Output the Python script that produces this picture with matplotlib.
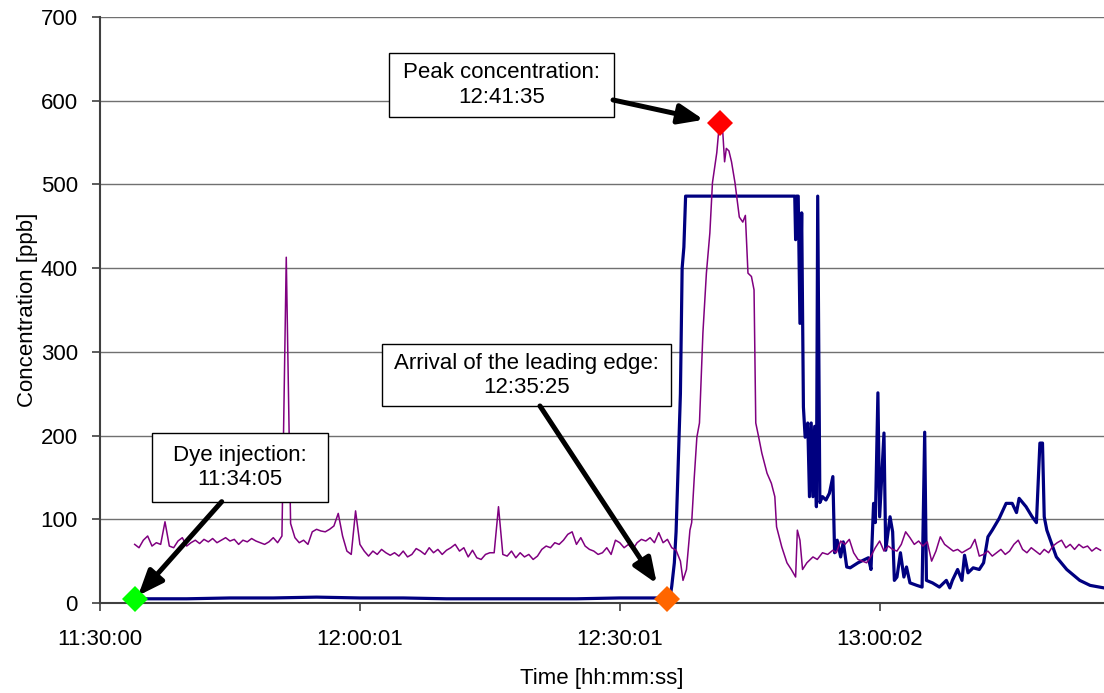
import matplotlib
matplotlib.use("Agg")
import matplotlib.pyplot as plt
from matplotlib.patches import Rectangle
import numpy as np

plt.rcParams['font.family'] = ['Liberation Sans', 'DejaVu Sans']

# temps en minutes depuis 11:30:00
tick_pos = [0.0, 30.017, 60.017, 90.033]
tick_lab = ["11:30:00", "12:00:01", "12:30:01", "13:00:02"]
x_fin = 115.9

# courbe bleue (sonde saturée à ~486 ppb)
bleu_t = [4.0, 10.0, 15.0, 20.0, 25.0, 30.0, 35.0, 40.0, 45.0, 50.0, 55.0, 60.0, 65.0,
          65.8, 66.0, 66.3, 66.5, 66.7, 67.0, 67.2, 67.4, 67.6,
          80.2, 80.3, 80.4, 80.6, 80.8, 81.0, 81.2, 81.4, 81.7, 81.9, 82.1, 82.3, 82.5,
          82.7, 82.85, 83.1, 83.4, 83.8, 84.2, 84.6, 84.8, 85.1, 85.5, 85.8, 86.2, 86.6,
          87.5, 88.7, 89.0, 89.3, 89.5, 89.8, 90.0, 90.5, 90.7, 91.2, 91.5, 91.7, 92.0,
          92.4, 92.8, 93.1, 93.5, 94.3, 94.9, 95.2, 95.4, 96.1, 96.9, 97.7, 98.1, 98.4,
          99.0, 99.5, 99.8, 100.2, 100.8, 101.5, 102.0, 102.5, 103.0, 103.8, 104.6, 105.3,
          105.8, 106.1, 106.9, 107.6, 108.1, 108.5, 108.8, 109.0, 109.3, 110.4, 111.6,
          113.1, 114.3, 115.9]
bleu_v = [5, 5, 6, 6, 7, 6, 6, 5, 5, 5, 5, 6, 6,
          6, 20, 48, 85, 150, 250, 400, 425, 486,
          486, 434, 486, 486, 334, 466, 234, 198, 215, 127, 215, 127, 211,
          115, 486, 120, 127, 123, 131, 151, 60, 75, 55, 73, 43, 42,
          48, 54, 40, 119, 96, 251, 103, 203, 63, 103, 85, 27, 31,
          60, 31, 43, 24, 21, 19, 204, 27, 24, 19, 27, 18, 27,
          40, 27, 57, 36, 42, 40, 48, 79, 87, 101, 119, 119,
          108, 125, 115, 103, 96, 191, 191, 103, 87, 55, 40,
          27, 21, 18]

# courbe violette, partie avant le pic (pas de 0.5 min à partir de 4.0)
violet_a = [70, 66, 75, 80, 68, 72, 70, 97, 68, 66, 74, 78, 68, 72, 75, 71, 76, 73, 77, 72,
            75, 78, 74, 76, 70, 75, 73, 77, 74, 72, 70, 73, 78, 72, 80, 413, 95, 78, 72, 75,
            70, 85, 88, 86, 85, 88, 92, 107, 80, 62, 58, 110, 70, 62, 56, 62, 58, 64, 60, 57,
            60, 56, 62, 55, 58, 65, 62, 58, 66, 60, 64, 58, 63, 66, 70, 62, 66, 55, 63, 54,
            52, 58, 60, 60, 115, 58, 56, 62, 54, 60, 55, 58, 52, 56, 64, 68, 66, 72, 70, 75,
            82, 85, 70, 78, 68, 64, 62, 58, 60, 66, 58, 75, 72, 66, 70, 64, 72, 76, 74, 78,
            72, 84, 72, 76, 66, 63]
# le pic
violet_pic_t = [67.0, 67.3, 67.7, 68.1, 68.3, 68.6, 68.9, 69.2, 69.6, 70.0, 70.4, 70.7,
                71.2, 71.5, 71.9, 72.1, 72.3, 72.6, 72.9, 73.3, 73.8, 74.2, 74.5, 74.8,
                75.2, 75.5, 75.7, 76.0, 76.4, 77.0, 77.5, 77.9, 78.1, 78.7, 79.3, 79.8,
                80.3, 80.5, 80.8, 81.1, 81.6, 82.3, 82.8, 83.4, 84.0, 84.6]
violet_pic_v = [50, 27, 40, 87, 96, 150, 198, 215, 323, 394, 442, 502,
                538, 573, 561, 527, 543, 540, 527, 502, 461, 455, 463, 394,
                390, 374, 215, 200, 179, 155, 143, 127, 91, 67, 48, 40,
                31, 87, 75, 40, 48, 55, 52, 60, 58, 63]
# après le pic (pas de 0.5 min à partir de 85.0)
violet_c = [60, 74, 70, 76, 60, 52, 50, 48, 56, 66, 74, 62, 68, 64, 62, 70, 85, 78, 70, 74,
            68, 73, 50, 62, 79, 70, 66, 62, 64, 60, 63, 66, 76, 56, 58, 62, 56, 60, 64, 58,
            62, 70, 75, 64, 60, 66, 62, 58, 64, 60, 68, 72, 75, 66, 70, 64, 70, 66, 68, 62,
            66, 63]

# points remarquables
inj_t, inj_v = 4.08, 5
arr_t, arr_v = 65.42, 5
pic_t, pic_v = 71.58, 573

violet_t = np.concatenate([4.0 + 0.5 * np.arange(len(violet_a)),
                           violet_pic_t,
                           85.0 + 0.5 * np.arange(len(violet_c))])
violet_v = np.concatenate([violet_a, violet_pic_v, violet_c])

fig = plt.figure(figsize=(11.04, 6.93), dpi=100)
ax = fig.add_axes([0.0906, 0.1299, 0.9094, 0.8456])

ax.plot(bleu_t, bleu_v, color="#000080", lw=2.3, zorder=3)
ax.plot(violet_t, violet_v, color="#800080", lw=1.1, zorder=4)

ax.plot([inj_t], [inj_v], marker="D", ms=13.5, color="#00ff00", mew=0, zorder=6, clip_on=False)
ax.plot([arr_t], [arr_v], marker="D", ms=13.5, color="#ff6600", mew=0, zorder=6, clip_on=False)
ax.plot([pic_t], [pic_v], marker="D", ms=13.5, color="#ff0000", mew=0, zorder=6, clip_on=False)

# cadres de texte + flèches
boites = [
    ("Dye injection:\n11:34:05", (0.0518, 0.1724, 0.1753, 0.1177), (0.1212, 0.1729), (inj_t, inj_v), 3),
    ("Arrival of the leading edge:\n12:35:25", (0.2805, 0.3358, 0.2878, 0.1058), (0.4382, 0.3362), (arr_t, arr_v), 13),
    ("Peak concentration:\n12:41:35", (0.2878, 0.8294, 0.2242, 0.1092), (0.5110, 0.8584), (pic_t, pic_v), 12),
]
for texte, (x0, y0, w, h), depart, cible, retrait in boites:
    ax.add_patch(Rectangle((x0, y0), w, h, transform=ax.transAxes, fc="white",
                           ec="black", lw=1, zorder=7, clip_on=False))
    ax.text(x0 + w / 2, y0 + h / 2, texte, transform=ax.transAxes, ha="center",
            va="center", fontsize=16, linespacing=1.2, zorder=8)
    ax.annotate("", xy=cible, xycoords="data", xytext=depart, textcoords="axes fraction",
                arrowprops=dict(arrowstyle="-|>,head_length=1.0,head_width=0.4", lw=3.6,
                                color="black", shrinkA=0, shrinkB=retrait,
                                mutation_scale=15),
                zorder=9)

ax.set_xlim(0, x_fin)
ax.set_ylim(0, 700)
ax.set_xticks(tick_pos)
ax.set_xticklabels(tick_lab)
ax.set_yticks(range(0, 701, 100))
ax.tick_params(axis="both", labelsize=16, length=6, width=1.2, color="#404040", pad=10)
ax.tick_params(axis="x", pad=13)
ax.yaxis.grid(True, color="#707070", lw=1)
ax.set_axisbelow(True)
for s in ["top", "right"]:
    ax.spines[s].set_visible(False)
for s in ["left", "bottom"]:
    ax.spines[s].set_color("#404040")
    ax.spines[s].set_linewidth(1.5)

ax.set_xlabel("Time [hh:mm:ss]", fontsize=16, labelpad=13)
ax.set_ylabel("Concentration [ppb]", fontsize=16, labelpad=2)

fig.savefig("out.png", dpi=100)
